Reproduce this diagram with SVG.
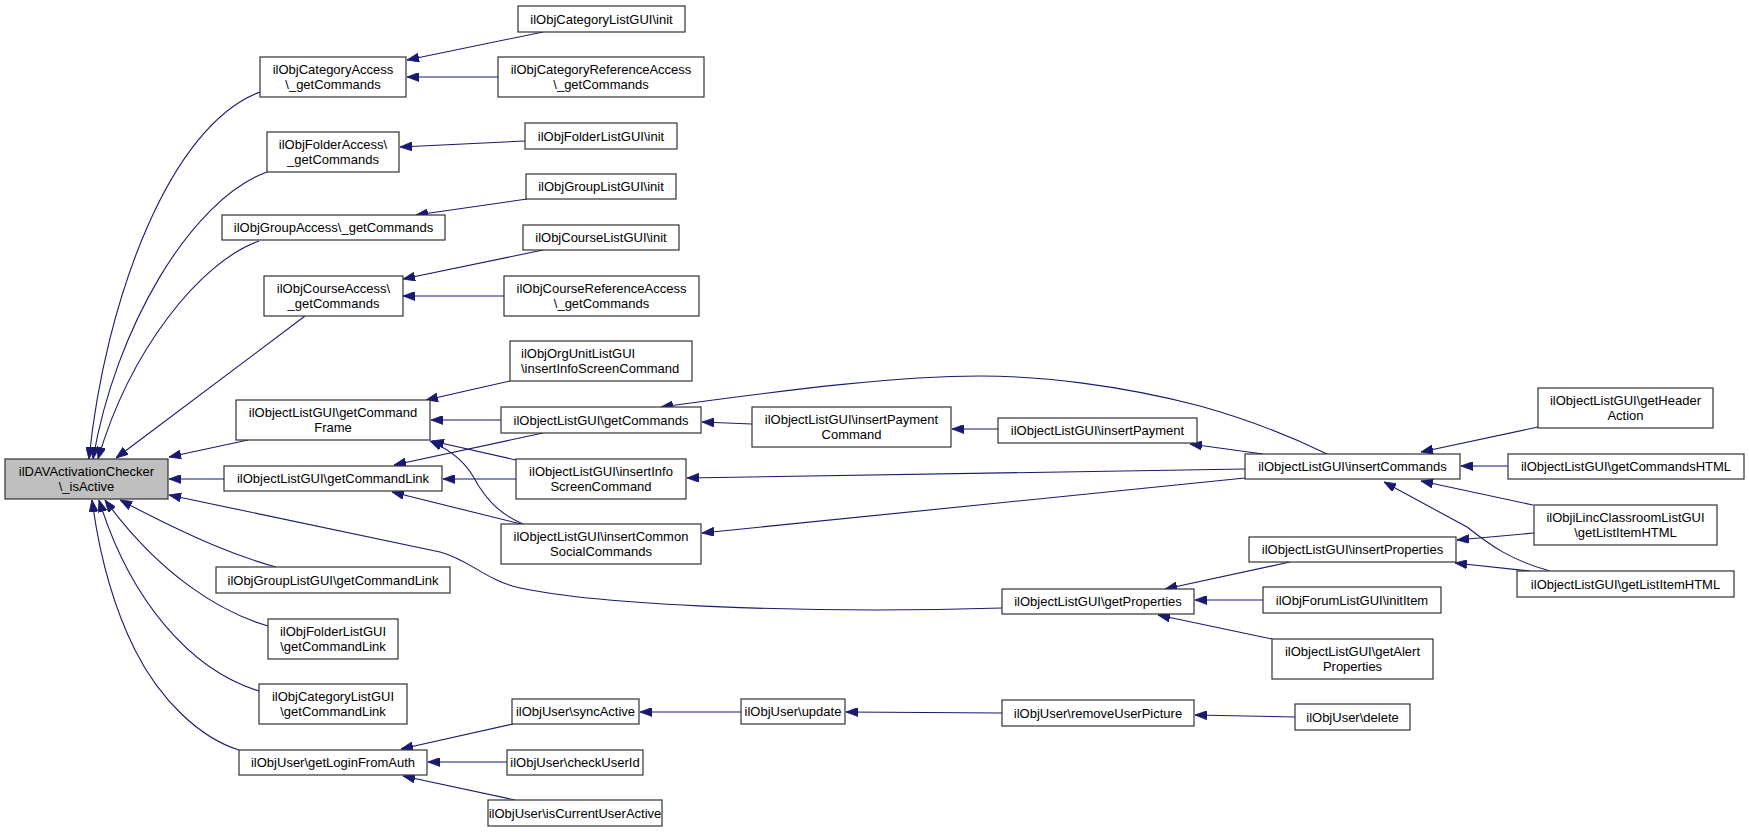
<svg xmlns="http://www.w3.org/2000/svg" width="1749" height="832" viewBox="0 0 1749 832">
<style>
.n rect{fill:#ffffff;stroke:#333333;stroke-width:1.2}
.n text{font-family:"Liberation Sans",Arial,sans-serif;font-size:13px;fill:#000;text-anchor:middle}
#n0 rect{fill:#bfbfbf}
.e path{fill:none;stroke:#191970;stroke-width:1.1;marker-end:url(#a)}
</style>
<defs>
<marker id="a" viewBox="0 0 12 9" refX="12" refY="4.5" markerWidth="12" markerHeight="9" markerUnits="userSpaceOnUse" orient="auto">
<path d="M0,0 L12,4.5 L0,9 z" fill="#191970" stroke="#191970" stroke-width="0.8"/>
</marker>
</defs>
<rect width="1749" height="832" fill="#ffffff"/>
<g id="edges" class="e">
<path d="M260,92 C170,125 105,300 89,459"/>
<path d="M267,172 C190,200 115,330 93,459"/>
<path d="M259,241 C200,262 130,350 98,459"/>
<path d="M305,316 L116,458"/>
<path d="M248,440 L169,457"/>
<path d="M224,479 L169,479"/>
<path d="M1002,608 C800,614 600,605 520,588 C485,580 470,560 440,552 L169,495"/>
<path d="M276,567 C240,557 200,542 120,500"/>
<path d="M268,626 C220,612 160,575 105,500"/>
<path d="M259,691 C190,670 130,600 99,500"/>
<path d="M239,750 C200,738 160,700 135,650 C115,610 100,560 92,500"/>
<path d="M543,32 L407,60"/>
<path d="M498,77 L407,77"/>
<path d="M525,141 L400,147"/>
<path d="M527,199 L416,215"/>
<path d="M543,250 L403,279"/>
<path d="M504,296 L403,296"/>
<path d="M510,381 L426,400"/>
<path d="M501,420 L431,420"/>
<path d="M516,460 L432,441"/>
<path d="M523,524 C495,512 485,495 478,485 C468,465 455,452 430,441"/>
<path d="M543,433 L394,465"/>
<path d="M516,479 L443,479"/>
<path d="M521,524 L392,492"/>
<path d="M1327,454 C1290,436 1250,420 1200,406 C1120,385 1040,376 980,376 C900,376 800,388 661,407"/>
<path d="M752,424 L702,422"/>
<path d="M1245,469 L687,478"/>
<path d="M1245,478 L702,533"/>
<path d="M998,429 L952,429"/>
<path d="M1263,454 L1190,444"/>
<path d="M1538,427 L1421,452"/>
<path d="M1508,466 L1461,466"/>
<path d="M1533,505 L1421,481"/>
<path d="M1550,571 C1510,560 1490,545 1467,527 L1384,482"/>
<path d="M1534,533 L1457,540"/>
<path d="M1530,571 L1455,563"/>
<path d="M1290,562 L1165,589"/>
<path d="M1263,600 L1195,600"/>
<path d="M1272,639 L1158,615"/>
<path d="M513,724 L401,749"/>
<path d="M507,762 L428,762"/>
<path d="M515,800 L403,776"/>
<path d="M741,712 L640,712"/>
<path d="M1002,713 L846,712"/>
<path d="M1295,717 L1195,715"/>
</g>
<g id="n0" class="n"><rect x="5" y="459" width="163" height="40"/><text x="86.5" y="476">ilDAVActivationChecker</text><text x="86.5" y="490.5">\_isActive</text></g>
<g id="n1" class="n"><rect x="260" y="57" width="146" height="40"/><text x="333" y="74">ilObjCategoryAccess</text><text x="333" y="88.5">\_getCommands</text></g>
<g id="n2" class="n"><rect x="267" y="132" width="132" height="40"/><text x="333" y="149">ilObjFolderAccess\</text><text x="333" y="163.5">_getCommands</text></g>
<g id="n3" class="n"><rect x="222" y="215" width="223" height="25"/><text x="333.5" y="232">ilObjGroupAccess\_getCommands</text></g>
<g id="n4" class="n"><rect x="264" y="276" width="139" height="40"/><text x="333.5" y="293">ilObjCourseAccess\</text><text x="333.5" y="307.5">_getCommands</text></g>
<g id="n5" class="n"><rect x="236" y="400" width="194" height="40"/><text x="333" y="417">ilObjectListGUI\getCommand</text><text x="333" y="431.5">Frame</text></g>
<g id="n6" class="n"><rect x="224" y="466" width="218" height="25"/><text x="333" y="483">ilObjectListGUI\getCommandLink</text></g>
<g id="n7" class="n"><rect x="216" y="567" width="234" height="26"/><text x="333" y="584.5">ilObjGroupListGUI\getCommandLink</text></g>
<g id="n8" class="n"><rect x="268" y="619" width="130" height="40"/><text x="333" y="636">ilObjFolderListGUI</text><text x="333" y="650.5">\getCommandLink</text></g>
<g id="n9" class="n"><rect x="259" y="684" width="148" height="40"/><text x="333" y="701">ilObjCategoryListGUI</text><text x="333" y="715.5">\getCommandLink</text></g>
<g id="n10" class="n"><rect x="239" y="750" width="188" height="25"/><text x="333" y="767">ilObjUser\getLoginFromAuth</text></g>
<g id="n11" class="n"><rect x="518" y="6" width="167" height="26"/><text x="601.5" y="23.5">ilObjCategoryListGUI\init</text></g>
<g id="n12" class="n"><rect x="498" y="57" width="206" height="40"/><text x="601" y="74">ilObjCategoryReferenceAccess</text><text x="601" y="88.5">\_getCommands</text></g>
<g id="n13" class="n"><rect x="525" y="123" width="152" height="26"/><text x="601" y="140.5">ilObjFolderListGUI\init</text></g>
<g id="n14" class="n"><rect x="526" y="174" width="150" height="25"/><text x="601" y="191">ilObjGroupListGUI\init</text></g>
<g id="n15" class="n"><rect x="523" y="225" width="156" height="25"/><text x="601" y="242">ilObjCourseListGUI\init</text></g>
<g id="n16" class="n"><rect x="504" y="276" width="195" height="40"/><text x="601.5" y="293">ilObjCourseReferenceAccess</text><text x="601.5" y="307.5">\_getCommands</text></g>
<g id="n17" class="n"><rect x="510" y="341" width="182" height="40"/><text x="521" y="358" style="text-anchor:start">ilObjOrgUnitListGUI</text><text x="521" y="372.5" style="text-anchor:start">\insertInfoScreenCommand</text></g>
<g id="n18" class="n"><rect x="501" y="407" width="200" height="26"/><text x="601" y="424.5">ilObjectListGUI\getCommands</text></g>
<g id="n19" class="n"><rect x="516" y="459" width="170" height="40"/><text x="601" y="476">ilObjectListGUI\insertInfo</text><text x="601" y="490.5">ScreenCommand</text></g>
<g id="n20" class="n"><rect x="501" y="524" width="200" height="40"/><text x="601" y="541">ilObjectListGUI\insertCommon</text><text x="601" y="555.5">SocialCommands</text></g>
<g id="n21" class="n"><rect x="512" y="699" width="127" height="25"/><text x="575.5" y="716">ilObjUser\syncActive</text></g>
<g id="n22" class="n"><rect x="507" y="750" width="136" height="25"/><text x="575" y="767">ilObjUser\checkUserId</text></g>
<g id="n23" class="n"><rect x="488" y="800" width="174" height="26"/><text x="575" y="817.5">ilObjUser\isCurrentUserActive</text></g>
<g id="n24" class="n"><rect x="752" y="407" width="199" height="40"/><text x="851.5" y="424">ilObjectListGUI\insertPayment</text><text x="851.5" y="438.5">Command</text></g>
<g id="n25" class="n"><rect x="1002" y="589" width="192" height="25"/><text x="1098" y="606">ilObjectListGUI\getProperties</text></g>
<g id="n26" class="n"><rect x="741" y="699" width="104" height="25"/><text x="793" y="716">ilObjUser\update</text></g>
<g id="n27" class="n"><rect x="998" y="418" width="199" height="25"/><text x="1097.5" y="435">ilObjectListGUI\insertPayment</text></g>
<g id="n28" class="n"><rect x="1002" y="700" width="192" height="26"/><text x="1098" y="717.5">ilObjUser\removeUserPicture</text></g>
<g id="n29" class="n"><rect x="1245" y="454" width="215" height="25"/><text x="1352.5" y="471">ilObjectListGUI\insertCommands</text></g>
<g id="n30" class="n"><rect x="1249" y="537" width="207" height="25"/><text x="1352.5" y="554">ilObjectListGUI\insertProperties</text></g>
<g id="n31" class="n"><rect x="1263" y="587" width="178" height="26"/><text x="1352" y="604.5">ilObjForumListGUI\initItem</text></g>
<g id="n32" class="n"><rect x="1272" y="639" width="161" height="40"/><text x="1352.5" y="656">ilObjectListGUI\getAlert</text><text x="1352.5" y="670.5">Properties</text></g>
<g id="n33" class="n"><rect x="1295" y="704" width="115" height="26"/><text x="1352.5" y="721.5">ilObjUser\delete</text></g>
<g id="n34" class="n"><rect x="1538" y="388" width="175" height="40"/><text x="1625.5" y="405">ilObjectListGUI\getHeader</text><text x="1625.5" y="419.5">Action</text></g>
<g id="n35" class="n"><rect x="1508" y="454" width="236" height="25"/><text x="1626" y="471">ilObjectListGUI\getCommandsHTML</text></g>
<g id="n36" class="n"><rect x="1534" y="505" width="183" height="40"/><text x="1625.5" y="522">ilObjiLincClassroomListGUI</text><text x="1625.5" y="536.5">\getListItemHTML</text></g>
<g id="n37" class="n"><rect x="1517" y="571" width="217" height="26"/><text x="1625.5" y="588.5">ilObjectListGUI\getListItemHTML</text></g>
</svg>
